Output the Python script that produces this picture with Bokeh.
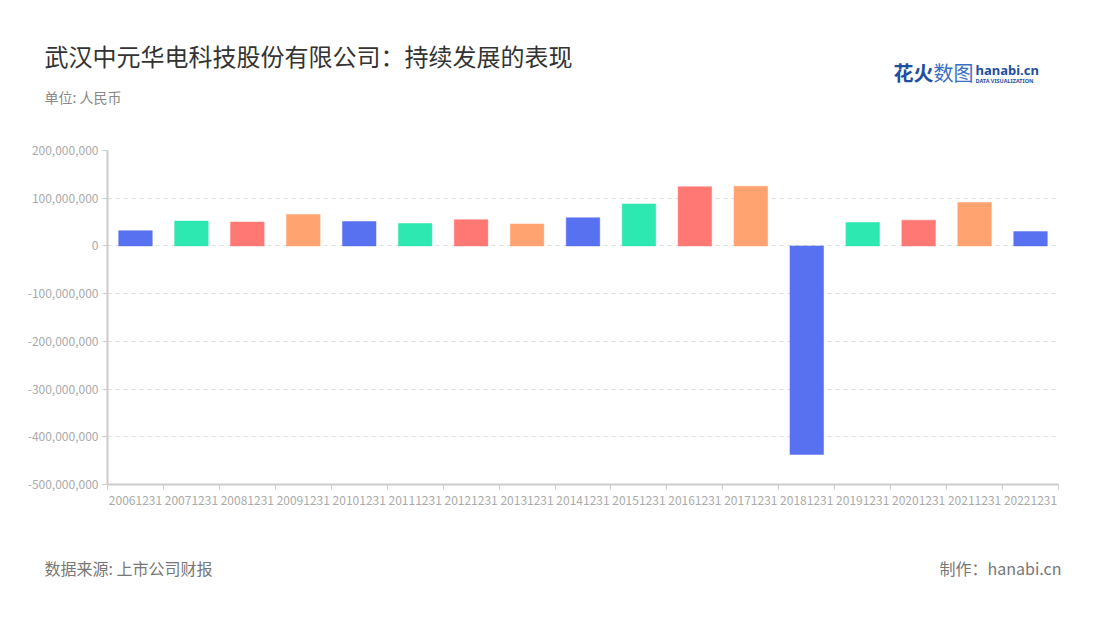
from bokeh.plotting import figure
from bokeh.layouts import column
from bokeh.models import ColumnDataSource, Range1d, FixedTicker, NumeralTickFormatter, Label
from bokeh.embed import file_html
from bokeh.resources import INLINE

# ---- data ----
categories = ["20061231", "20071231", "20081231", "20091231", "20101231", "20111231",
              "20121231", "20131231", "20141231", "20151231", "20161231", "20171231",
              "20181231", "20191231", "20201231", "20211231", "20221231"]
values = [32e6, 52e6, 50e6, 66e6, 51e6, 47e6, 55e6, 46e6, 59e6, 88e6, 124e6, 125e6,
          -437e6, 49e6, 54e6, 91e6, 30e6]
y_ticks = [-500e6, -400e6, -300e6, -200e6, -100e6, 0, 100e6, 200e6]
title_text = "武汉中元华电科技股份有限公司：持续发展的表现"
subtitle_text = "单位: 人民币"
source_text = "数据来源: 上市公司财报"
credit_text = "制作：hanabi.cn"
palette = ["#5871f0", "#2ee8b1", "#ff7873", "#ffa370"]

W = 1084
HEAD_H, MAIN_H, FOOT_H = 140, 380, 84
FL, FR, FT, FB = 107, 1058, 150, 484  # frame edges in page pixels
CJK = "Noto Sans CJK SC"


def text_canvas(h):
    f = figure(width=W, height=h, output_backend="svg", toolbar_location=None,
               x_axis_type=None, y_axis_type=None, x_range=Range1d(0, W),
               y_range=Range1d(0, h), min_border=0, outline_line_color=None)
    f.grid.visible = False
    f.frame_align = False
    return f


def add_label(f, top, h, px, py, text, size, color, align="left", font=CJK, style="normal"):
    f.add_layout(Label(x=px, y=top + h - py, x_units="screen", y_units="screen", text=text,
                       text_font=font, text_font_size=size, text_color=color,
                       text_align=align, text_baseline="middle", text_font_style=style))


# ---- header ----
head = text_canvas(HEAD_H)
add_label(head, 0, HEAD_H, 44, 55, title_text, "24px", "#333333")
add_label(head, 0, HEAD_H, 44, 96, subtitle_text, "14px", "#888888")
add_label(head, 0, HEAD_H, 893, 72, "花火", "20px", "#1f4f9e", style="bold")
add_label(head, 0, HEAD_H, 933, 72, "数图", "20px", "#3a6fc4")
add_label(head, 0, HEAD_H, 975, 69, "hanabi.cn", "13px", "#1f4f9e", font="Noto Sans", style="bold")
add_label(head, 0, HEAD_H, 975, 80, "DATA VISUALIZATION", "5.5px", "#1f4f9e", font="Noto Sans", style="bold")

# ---- main chart ----
n = len(categories)
xs = [i + 0.5 for i in range(n)]
colors = [palette[i % len(palette)] for i in range(n)]
src = ColumnDataSource(dict(x=xs, top=values, color=colors))

p = figure(width=W, height=MAIN_H, output_backend="svg", toolbar_location=None,
           x_range=Range1d(0, n), y_range=Range1d(-500e6, 200e6),
           min_border_left=FL, min_border_right=W - FR, min_border_top=FT - HEAD_H,
           min_border_bottom=HEAD_H + MAIN_H - FB, outline_line_color=None)
p.frame_align = False

p.vbar(x="x", top="top", bottom=0, width=0.6, fill_color="color",
       line_color="color", line_alpha=0.5, line_width=1, source=src)

xa = p.xaxis[0]
xa.ticker = FixedTicker(ticks=xs, minor_ticks=list(range(n + 1)))
xa.major_label_overrides = {x: c for x, c in zip(xs, categories)}
xa.major_tick_out = 0
xa.major_tick_in = 0
xa.minor_tick_out = 5
xa.minor_tick_in = 0
xa.minor_tick_line_color = "#cccccc"
xa.axis_line_color = "#cccccc"
xa.axis_line_width = 2
xa.major_label_text_color = "#aaaaaa"
xa.major_label_text_font = CJK
xa.major_label_text_font_size = "12px"
xa.major_label_standoff = 6

ya = p.yaxis[0]
ya.ticker = FixedTicker(ticks=y_ticks)
ya.formatter = NumeralTickFormatter(format="0,0")
ya.axis_line_color = "#cccccc"
ya.axis_line_width = 2
ya.major_tick_line_color = "#cccccc"
ya.major_tick_out = 5
ya.major_tick_in = 0
ya.minor_tick_line_color = None
ya.major_label_text_color = "#aaaaaa"
ya.major_label_text_font = CJK
ya.major_label_text_font_size = "12px"
ya.major_label_standoff = 4

p.xgrid.grid_line_color = None
p.ygrid.grid_line_color = "#dddddd"
p.ygrid.grid_line_dash = "4 4"
p.ygrid.ticker = FixedTicker(ticks=y_ticks)

# ---- footer ----
foot = text_canvas(FOOT_H)
top0 = HEAD_H + MAIN_H
add_label(foot, top0, FOOT_H, 44, 567, source_text, "16px", "#777777")
add_label(foot, top0, FOOT_H, 1061, 567, credit_text, "16px", "#777777", align="right")

layout = column(head, p, foot, spacing=0)
open("out.html", "w").write(file_html(layout, INLINE))
